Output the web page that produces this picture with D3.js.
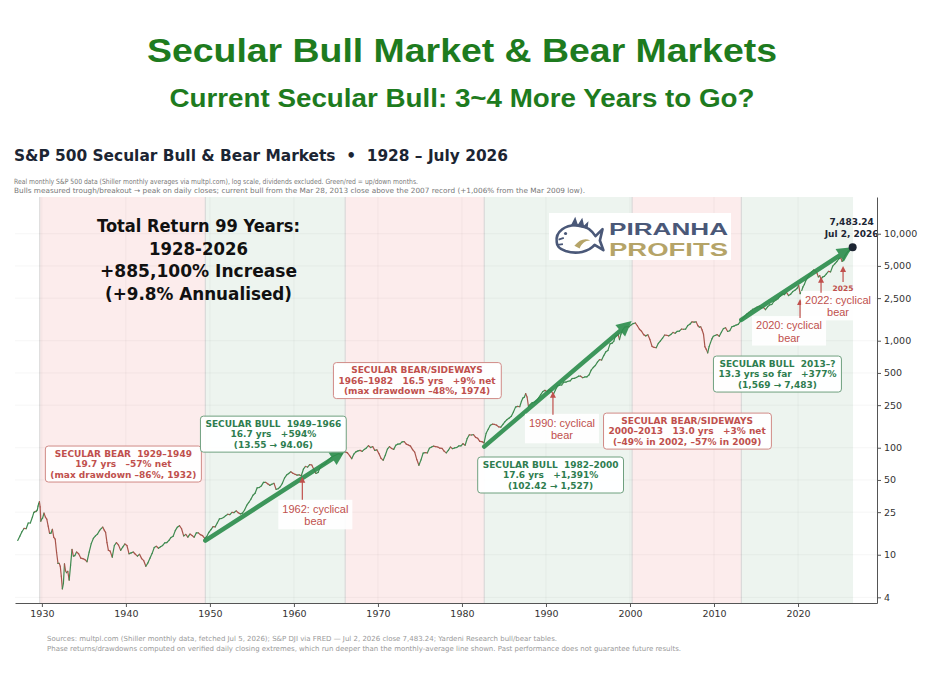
<!DOCTYPE html>
<html><head><meta charset="utf-8">
<script src="https://cdn.jsdelivr.net/npm/d3@7"></script>
<style>html,body{margin:0;padding:0;background:#fff;} svg{display:block;} text{white-space:pre;}</style>
</head><body><svg id="chart" width="927" height="675"></svg>
<script>
// ---------------- DATA ----------------
// Nominal S&P 500 monthly-average level, rows: [year, values spread evenly across the year]
// (rows with fewer than 4 values are quarterly and partial)
const priceRows = [
[1927,13.6,14.9,16.4,17.6],
[1928,17.5,19.8,19.8,22.5],
[1929,24.9,25.0,25.4,25.3,25.7,26.2,28.5,30.1,31.3,28.0,20.6,21.4],
[1930,22.0,24.5,22.5,21.5,18.5,15.8],
[1931,15.9,17.3,14.5,14.0,10.5,8.3],
[1932,8.3,7.8,6.3,4.8,5.4,8.2,7.1,6.8],
[1933,7.0,5.8,8.0,11.2,9.7,9.8],
[1934,10.6,10.2,9.3,9.2],
[1935,9.0,8.6,10.6,12.7],
[1936,14.2,15.0,15.6,16.9],
[1937,17.6,18.1,17.0,16.2,13.0,11.0],
[1938,10.8,9.5,12.2,13.0],
[1939,12.3,11.0,11.8,12.6],
[1940,12.2,10.2,10.4,10.6],
[1941,10.1,9.7,10.1,9.2],
[1942,8.8,7.8,8.4,9.3],
[1943,10.3,11.7,12.0,11.5],
[1944,11.9,12.2,12.9,13.0],
[1945,13.6,14.5,14.9,16.8],
[1946,18.1,18.7,17.5,15.0],
[1947,15.5,14.6,15.6,15.1],
[1948,14.6,16.0,16.0,15.4],
[1949,15.1,14.2,14.8,16.2],
[1950,17.2,18.3,18.2,19.8],
[1951,21.6,21.8,22.3,23.2],
[1952,23.9,23.7,24.9,24.8],
[1953,25.7,24.7,24.1,24.5],
[1954,26.2,28.9,30.8,33.0],
[1955,36.0,37.5,42.2,42.5],
[1956,44.0,47.5,47.5,46.0],
[1957,44.5,45.6,46.5,40.8],
[1958,41.4,43.2,46.5,52.0],
[1959,55.5,57.4,59.6,57.7],
[1960,56.5,55.5,55.8,54.7],
[1961,63.0,66.8,66.0,69.5],
[1962,69.0,62.5,57.5,58.8],
[1963,65.5,69.5,69.8,73.5],
[1964,77.2,80.3,83.0,84.5],
[1965,86.5,88.0,85.5,91.5],
[1966,91.5,89.5,84.5,79.0],
[1967,87.0,91.5,93.5,94.5],
[1968,92.5,96.5,99.5,104.5],
[1969,100.5,102.5,94.5,95.5],
[1970,88.0,79.5,76.5,85.0],
[1971,97.0,102.5,98.5,96.5],
[1972,105.5,108.0,108.5,113.5],
[1973,114.0,108.0,106.0,103.5],
[1974,96.0,91.0,77.5,68.5],
[1975,77.0,89.0,90.0,89.5],
[1976,99.0,101.5,103.5,102.5],
[1977,101.5,99.0,98.5,93.0],
[1978,89.5,94.5,101.5,98.0],
[1979,99.5,100.5,104.0,104.0],
[1980,109.0,105.5,122.0,132.0],
[1981,131.5,132.5,125.0,122.5],
[1982,114.5,114.0,111.0,136.5],
[1983,149.0,162.0,166.0,165.0],
[1984,162.5,156.5,155.5,165.5],
[1985,175.5,183.5,189.5,196.5],
[1986,215.5,239.5,243.5,241.5],
[1987,272,291,296,320,298,243],
[1988,254,264.5,266,276],
[1989,292,313,335,343.5],
[1990,334,347,339,314],
[1991,346,378,385,385.5],
[1992,410.5,410.5,418,422],
[1993,443.5,445,453.5,466],
[1994,466.5,451,458.5,460],
[1995,479,530.5,562,587],
[1996,630.5,665,660,726],
[1997,787,812,934,949],
[1998,990,1105,1115,1150,1025,1150],
[1999,1265,1340,1355,1345],
[2000,1405,1445,1465,1380],
[2001,1280,1225,1140,1110],
[2002,1135,1025,885,865],
[2003,860,945,995,1055],
[2004,1130,1125,1110,1145],
[2005,1195,1175,1225,1230],
[2006,1285,1280,1285,1385],
[2007,1425,1500,1490,1500],
[2008,1380,1340,1350,1260,1150,880],
[2009,830,770,880,960,1040,1100],
[2010,1120,1140,1100,1200],
[2011,1300,1320,1220,1240],
[2012,1350,1370,1400,1420],
[2013,1510,1610,1680,1770],
[2014,1835,1900,1970,2010],
[2015,2065,2100,2020,2050],
[2016,1950,2075,2160,2180],
[2017,2330,2400,2470,2620],
[2018,2740,2700,2830,2640],
[2019,2720,2880,2960,3080],
[2020,3270,2750,2900,3180,3350,3630],
[2021,3860,4170,4400,4580],
[2022,4480,4300,3950,4050,3750,3930],
[2023,4000,4220,4440,4400],
[2024,4970,5230,5500,5850],
[2025,5950,5500,5750,6250,6550,6800],
[2026,6950,7150]
];
const lastCloseDate = 2026.502;
const lastCloseValue = 7483.24;
const lastCloseLabel = ["7,483.24", "Jul 2, 2026"];

// Secular phases
const phaseStart = [1929.75, 1949.45, 1966.1, 1982.65, 2000.25, 2013.25];
const phaseEnd   = [1949.45, 1966.1, 1982.65, 2000.25, 2013.25, 2026.55];
const phaseKind  = ["bear", "bull", "bear", "bull", "bear", "bull"];

// Secular bull trend arrows: [startYear, startValue, endYear, endValue]
const bullTrends = [
  [1949.45, 13.55, 1966.1, 94.06],
  [1982.65, 102.42, 2000.2, 1527],
  [2013.25, 1569, 2026.45, 7483]
];

// Phase annotation boxes: text lines, kind, anchor (year, value)
const phaseNotes = [
  {kind:"bear", year:1939.7, value:70.4, lines:["SECULAR BEAR  1929–1949","19.7 yrs   –57% net","(max drawdown –86%, 1932)"]},
  {kind:"bull", year:1957.55, value:134, lines:["SECULAR BULL  1949–1966","16.7 yrs   +594%","(13.55 → 94.06)"]},
  {kind:"bear", year:1974.65, value:424, lines:["SECULAR BEAR/SIDEWAYS","1966–1982   16.5 yrs   +9% net","(max drawdown –48%, 1974)"]},
  {kind:"bull", year:1990.55, value:55.6, lines:["SECULAR BULL  1982–2000","17.6 yrs   +1,391%","(102.42 → 1,527)"]},
  {kind:"bear", year:2006.8, value:143, lines:["SECULAR BEAR/SIDEWAYS","2000–2013   13.0 yrs   +3% net","(–49% in 2002, –57% in 2009)"]},
  {kind:"bull", year:2017.55, value:488, lines:["SECULAR BULL  2013–?","13.3 yrs so far   +377%","(1,569 → 7,483)"]}
];

// Cyclical bear call-outs: arrow x (year), arrow tip (value), label
const cyclicalYears  = [1961.0, 1990.83, 2020.24, 2022.74, 2025.36];
const cyclicalTips   = [53.5, 333, 2450, 3950, 4990];
const cyclicalLabels = [["1962: cyclical","bear"],["1990: cyclical","bear"],["2020: cyclical","bear"],["2022: cyclical","bear"],["2025"]];

const xTickYears = [1930,1940,1950,1960,1970,1980,1990,2000,2010,2020];
const yTickValues = [4,10,25,50,100,250,500,1000,2500,5000,10000];

const headline = "Secular Bull Market & Bear Markets";
const subHeadline = "Current Secular Bull: 3~4 More Years to Go?";
const chartTitle = "S&P 500 Secular Bull & Bear Markets  •  1928 – July 2026";
const noteLines = [
  "Real monthly S&P 500 data (Shiller monthly averages via multpl.com), log scale, dividends excluded. Green/red = up/down months.",
  "Bulls measured trough/breakout → peak on daily closes; current bull from the Mar 28, 2013 close above the 2007 record (+1,006% from the Mar 2009 low)."
];
const totalReturnLines = ["Total Return 99 Years:","1928-2026","+885,100% Increase","(+9.8% Annualised)"];
const footerLines = [
  "Sources: multpl.com (Shiller monthly data, fetched Jul 5, 2026); S&P DJI via FRED — Jul 2, 2026 close 7,483.24; Yardeni Research bull/bear tables.",
  "Phase returns/drawdowns computed on verified daily closing extremes, which run deeper than the monthly-average line shown. Past performance does not guarantee future results."
];

// ---------------- DRAW ----------------
const svg = d3.select("#chart");
const W = 927, H = 675;
const plot = {left:15, right:877, top:197, bottom:603};

const x = d3.scaleLinear().domain([1926.8, 2029.4]).range([plot.left, plot.right]);
const y = d3.scaleLog().domain([3.54, 22030]).range([plot.bottom, plot.top]);

const GREEN_HEAD = "#1e7b1e";
const BEAR_RED = "#c0504d";
const BULL_GREEN = "#2e7d4f";

// Headlines
svg.append("text").attr("x", 462).attr("y", 62).attr("text-anchor","middle")
  .attr("font-family","Liberation Sans, Arial, sans-serif").attr("font-weight","bold").attr("font-size",34)
  .attr("fill",GREEN_HEAD).attr("textLength",630).attr("lengthAdjust","spacingAndGlyphs").text(headline);
svg.append("text").attr("x", 462).attr("y", 107).attr("text-anchor","middle")
  .attr("font-family","Liberation Sans, Arial, sans-serif").attr("font-weight","bold").attr("font-size",25)
  .attr("fill",GREEN_HEAD).attr("textLength",585).attr("lengthAdjust","spacingAndGlyphs").text(subHeadline);

svg.append("text").attr("x",14).attr("y",161)
  .attr("font-family","DejaVu Sans, sans-serif").attr("font-weight","bold").attr("font-size",16)
  .attr("fill","#1c2533").attr("textLength",494).attr("lengthAdjust","spacingAndGlyphs").text(chartTitle);
const noteLen = [404, 571];
noteLines.forEach((t,i)=>{
  svg.append("text").attr("x",14).attr("y",184+i*9)
    .attr("font-family","DejaVu Sans, sans-serif").attr("font-size",7.2).attr("fill","#777")
    .attr("textLength",noteLen[i]).attr("lengthAdjust","spacingAndGlyphs").text(t);
});

// Phase shading
const gPh = svg.append("g");
phaseKind.forEach((k,i)=>{
  gPh.append("rect").attr("x",x(phaseStart[i])).attr("y",plot.top)
    .attr("width",x(phaseEnd[i])-x(phaseStart[i])).attr("height",plot.bottom-plot.top)
    .attr("fill", k==="bear" ? "#fcecec" : "#edf4ef");
});
// Grid
const gGrid = svg.append("g").attr("stroke","#000").attr("stroke-opacity",0.05).attr("stroke-width",0.8);
xTickYears.forEach(t=>gGrid.append("line").attr("x1",x(t)).attr("x2",x(t)).attr("y1",plot.top).attr("y2",plot.bottom));
yTickValues.forEach(v=>gGrid.append("line").attr("x1",plot.left).attr("x2",plot.right).attr("y1",y(v)).attr("y2",y(v)));
// Phase boundaries
phaseStart.forEach(s=>gPh.append("line").attr("x1",x(s)).attr("x2",x(s)).attr("y1",plot.top).attr("y2",plot.bottom)
  .attr("stroke","#d4d4d4").attr("stroke-width",1));

// Price series
const pts = [];
priceRows.forEach(r=>{
  const yr = r[0], vals = r.slice(1), n = vals.length;
  const step = n >= 4 ? 1/n : 0.25;
  vals.forEach((v,i)=>pts.push({t: yr + (i+0.5)*step, v}));
});
pts.push({t:lastCloseDate, v:lastCloseValue});
svg.append("g").selectAll("line").data(d3.pairs(pts)).join("line")
  .attr("x1",d=>x(d[0].t)).attr("y1",d=>y(d[0].v)).attr("x2",d=>x(d[1].t)).attr("y2",d=>y(d[1].v))
  .attr("stroke",d=>d[1].v>=d[0].v ? "#3f8a50" : "#a8554c").attr("stroke-width",1.2).attr("stroke-linecap","round");

// Bull trend arrows
const gTr = svg.append("g").attr("fill","#2f8f4f").attr("stroke","#2f8f4f").attr("opacity",0.92);
bullTrends.forEach(b=>{
  const x0=x(b[0]), y0=y(b[1]), x1=x(b[2]), y1=y(b[3]);
  const dx=x1-x0, dy=y1-y0, L=Math.hypot(dx,dy), ux=dx/L, uy=dy/L;
  const hl=15, hw=7.5, bx=x1-ux*hl, by=y1-uy*hl;
  gTr.append("line").attr("x1",x0).attr("y1",y0).attr("x2",bx+ux*2).attr("y2",by+uy*2).attr("stroke-width",4.5).attr("stroke-linecap","round");
  gTr.append("path").attr("stroke","none")
    .attr("d",`M${x1},${y1}L${bx-uy*hw},${by+ux*hw}L${bx+uy*hw},${by-ux*hw}Z`);
});

// End point
svg.append("circle").attr("cx",x(lastCloseDate)).attr("cy",y(lastCloseValue)).attr("r",4).attr("fill","#1c2533");
lastCloseLabel.forEach((t,i)=>{
  svg.append("text").attr("x",x(lastCloseDate)-1).attr("y",y(lastCloseValue)-22+i*12).attr("text-anchor","middle")
    .attr("font-family","DejaVu Sans, sans-serif").attr("font-weight","bold").attr("font-size",9).attr("fill","#1c2533").text(t);
});

// Cyclical bear call-outs
const cycOffsets = [ // tail length, label dy from tail, label dx
  [23, 13, 13], [23, 12, 9], [19, 11, -11], [16, 11, 17], [16, 9, 0]
];
cyclicalYears.forEach((yr,i)=>{
  const ax = x(yr), tipY = y(cyclicalTips[i]);
  const [tl, ldy, ldx] = cycOffsets[i];
  const tailY = tipY + tl;
  const g = svg.append("g");
  const lines = cyclicalLabels[i];
  const small = lines.length === 1;
  const tg = g.append("g");
  lines.forEach((t,j)=>{
    tg.append("text").attr("x",ax+ldx).attr("y",tailY+ldy+j*12.5).attr("text-anchor","middle")
      .attr("font-family", small ? "DejaVu Sans, sans-serif" : "Liberation Sans, Arial, sans-serif")
      .attr("font-weight", small ? "bold" : "normal")
      .attr("font-size", small ? 7.5 : 11).attr("fill",BEAR_RED).text(t);
  });
  if(!small){
    const bb = tg.node().getBBox();
    g.insert("rect","g").attr("x",bb.x-4).attr("y",bb.y-3).attr("width",bb.width+8).attr("height",bb.height+5).attr("fill","#fff").attr("opacity",0.9);
  }
  g.append("line").attr("x1",ax).attr("x2",ax).attr("y1",tailY).attr("y2",tipY+4).attr("stroke",BEAR_RED).attr("stroke-width",1.2);
  g.append("path").attr("fill",BEAR_RED).attr("d",`M${ax},${tipY}L${ax-3},${tipY+6}L${ax+3},${tipY+6}Z`);
});

// Phase annotation boxes
phaseNotes.forEach(n=>{
  const cx = x(n.year), cy = y(n.value);
  const col = n.kind==="bear" ? BEAR_RED : BULL_GREEN;
  const g = svg.append("g");
  const tg = g.append("g");
  n.lines.forEach((t,j)=>{
    tg.append("text").attr("x",cx).attr("y",cy-7.5+j*10.5).attr("text-anchor","middle")
      .attr("font-family","DejaVu Sans, sans-serif").attr("font-weight","bold").attr("font-size",9)
      .attr("fill",col).text(t);
  });
  const bb = tg.node().getBBox();
  g.insert("rect","g").attr("x",bb.x-5).attr("y",bb.y-2.5).attr("width",bb.width+10).attr("height",bb.height+5)
    .attr("rx",3).attr("fill","#fff").attr("fill-opacity",0.95)
    .attr("stroke", n.kind==="bear" ? "#d08a86" : "#6fa07f").attr("stroke-width",1);
});

// Axes
const yAxis = d3.axisRight(y).tickValues(yTickValues).tickFormat(d3.format(",")).tickSize(4).tickSizeOuter(0).tickPadding(3);
const gy = svg.append("g").attr("transform",`translate(${plot.right},0)`).call(yAxis);
const xAxis = d3.axisBottom(x).tickValues(xTickYears).tickFormat(d3.format("d")).tickSize(4).tickSizeOuter(0).tickPadding(3);
const gx = svg.append("g").attr("transform",`translate(0,${plot.bottom})`).call(xAxis);
[gx,gy].forEach(g=>{
  g.select(".domain").attr("stroke","#555").attr("stroke-width",1);
  g.selectAll(".tick line").attr("stroke","#555");
  g.selectAll(".tick text").attr("font-family","DejaVu Sans, sans-serif").attr("font-size",9.5).attr("fill","#333");
});

// Total return block
const trLen = [203, 99, 197, 187];
totalReturnLines.forEach((t,i)=>{
  svg.append("text").attr("x",198.5).attr("y",232+i*22.7).attr("text-anchor","middle")
    .attr("font-family","DejaVu Sans, sans-serif").attr("font-weight","bold").attr("font-size",18.5)
    .attr("fill","#111").attr("textLength",trLen[i]).attr("lengthAdjust","spacingAndGlyphs").text(t);
});

// Logo
const lg = svg.append("g");
lg.append("rect").attr("x",549).attr("y",213).attr("width",182).attr("height",47).attr("fill","#fff");
const fish = lg.append("g").attr("transform","translate(555,237) scale(0.88) translate(-560,-237)");
fish.append("path").attr("fill","none").attr("stroke","#4a5878").attr("stroke-width",3).attr("stroke-linejoin","round")
  .attr("d","M562,243 C560,231 572,222 588,224 C596,225 602,230 606,236 L614,228 L611,241 L615,252 L605,246 C598,254 585,257 572,253 C566,251 562,248 562,243 Z");
fish.append("path").attr("fill","#4a5878").attr("d","M578,224 L583,214 L586,223 L591,215 L593,224 L598,219 L597,228 Z");
fish.append("path").attr("fill","#b5a468").attr("d","M582,247 C588,240 594,238 600,241 C594,241 590,245 588,250 Z");
fish.append("path").attr("fill","none").attr("stroke","#4a5878").attr("stroke-width",2).attr("d","M564,240 L570,238 M563,246 L569,245");
fish.append("circle").attr("cx",572).attr("cy",233).attr("r",1.8).attr("fill","#4a5878");
lg.append("text").attr("x",609).attr("y",235).attr("font-family","Liberation Sans, Arial, sans-serif").attr("font-weight","bold")
  .attr("font-size",16.5).attr("fill","#4a5878").attr("textLength",119).attr("lengthAdjust","spacingAndGlyphs").text("PIRANHA");
lg.append("text").attr("x",609).attr("y",256).attr("font-family","Liberation Sans, Arial, sans-serif").attr("font-weight","bold")
  .attr("font-size",19).attr("fill","#b5a468").attr("textLength",119).attr("lengthAdjust","spacingAndGlyphs").text("PROFITS");

// Footer
const footLen = [510, 634];
footerLines.forEach((t,i)=>{
  svg.append("text").attr("x",47).attr("y",641+i*10)
    .attr("font-family","DejaVu Sans, sans-serif").attr("font-size",7).attr("fill","#999")
    .attr("textLength",footLen[i]).attr("lengthAdjust","spacingAndGlyphs").text(t);
});
</script></body></html>
